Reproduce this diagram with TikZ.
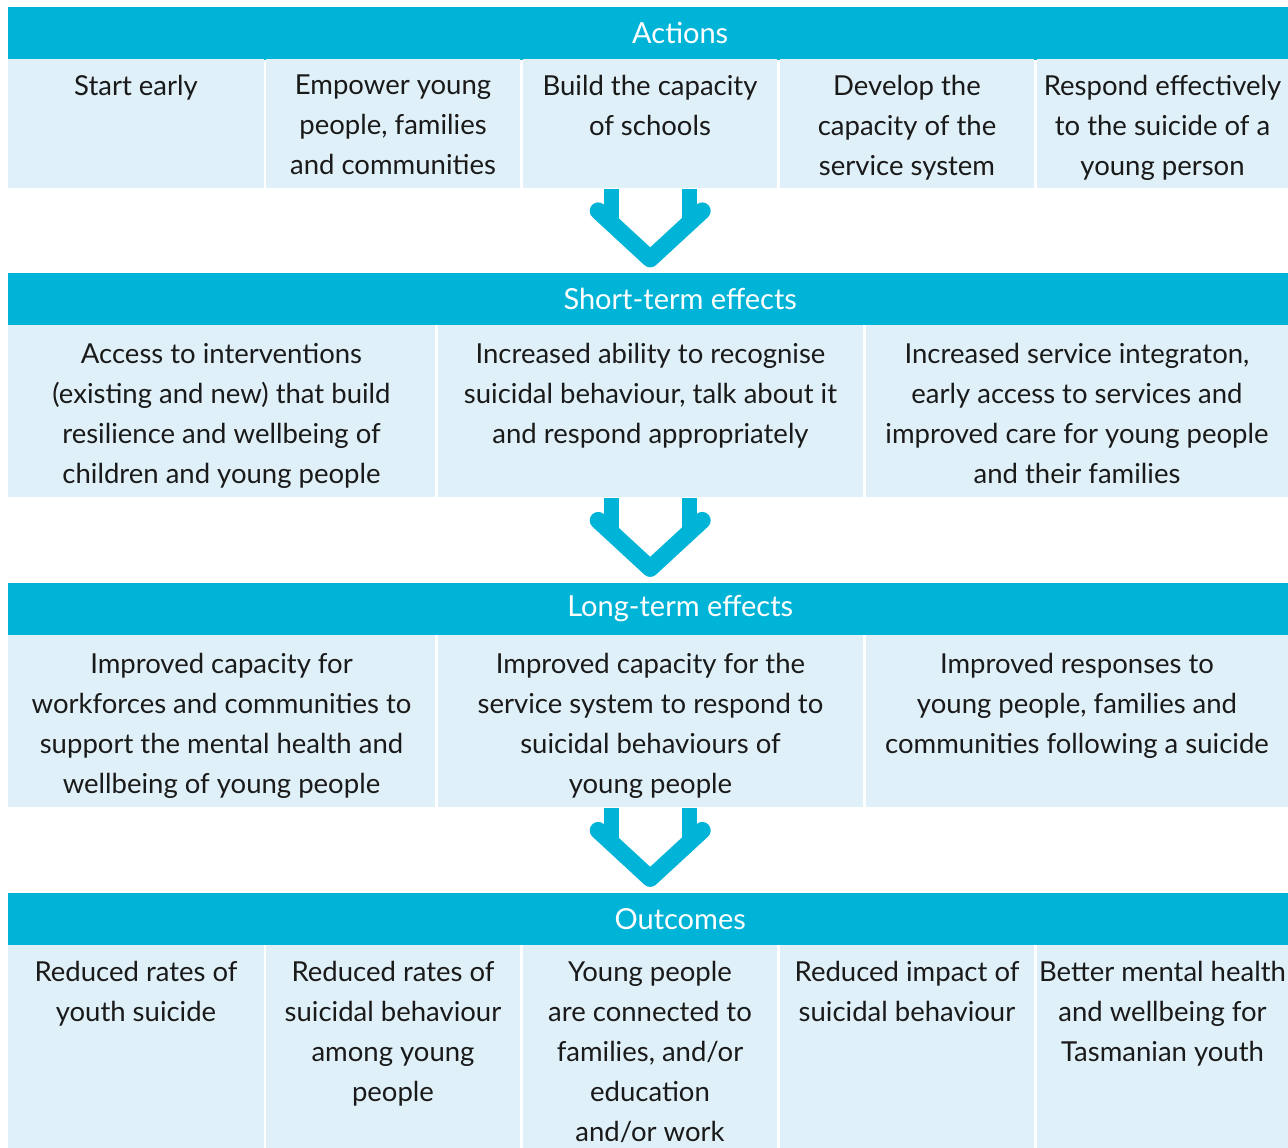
\documentclass[tikz,border=0pt]{standalone}
\usepackage{fontspec}
\setmainfont{Lato}
\usetikzlibrary{positioning,calc}
\definecolor{tealhead}{RGB}{0,180,216}
\definecolor{tealpale}{RGB}{223,240,248}
\definecolor{inkgrey}{RGB}{26,26,26}

\begin{document}
\begin{tikzpicture}[x=1pt,y=-1pt,
    head/.style={fill=tealhead,minimum width=1280pt,minimum height=52.5pt,
        inner sep=0pt,anchor=north west},
    headtext/.style={text=white,inner sep=0pt,font=\fontsize{29}{32}\selectfont},
    cell/.style={text=inkgrey,align=center,anchor=north,inner sep=0pt,
        font=\fontsize{27.5}{40}\selectfont},
    stem/.style={draw=tealhead,line width=15pt},
    chev/.style={draw=tealhead,line width=17pt,line cap=round,line join=round},
    downarr/.pic={
        \draw[stem] (-39,-42) -- (-39,-6);
        \draw[stem] (39,-42) -- (39,-6);
        \draw[chev] (-52,-20) -- (0,28) -- (52,-20);
    }]
    \useasboundingbox (0,0) rectangle (1288,1148);

    % Actions
    \node[head] (acthead) at (8,7) {};
    \node[headtext] (acttitle) at ($(acthead.center)+(32,0)$) {Actions};
    \foreach \xa/\xb/\txt [count=\i] in {
        8/264/{Start early},
        266/520/{Empower young\\people, families\\and communities},
        523/777/{Build the capacity\\of schools},
        780/1034/{Develop the\\capacity of the\\service system},
        1037/1288/{Respond effectively\\to the suicide of a\\young person}}{
        \fill[tealpale] (\xa,59.5) rectangle (\xb,188);
        \node[cell] (act-\i) at ({(\xa+\xb)/2},75) {\txt};
    }
    \pic at ($(acthead.south)+(2,171)$) {downarr};

    % Short-term effects
    \node[head] (sthead) at (8,272.5) {};
    \node[headtext] (sttitle) at ($(sthead.center)+(32,0)$) {Short-term effects};
    \foreach \xa/\xb/\txt [count=\i] in {
        8/435/{Access to interventions\\(existing and new) that build\\resilience and wellbeing of\\children and young people},
        438/863/{Increased ability to recognise\\suicidal behaviour, talk about it\\and respond appropriately},
        866/1288/{Increased service integraton,\\early access to services and\\improved care for young people\\and their families}}{
        \fill[tealpale] (\xa,325) rectangle (\xb,497);
        \node[cell] (st-\i) at ({(\xa+\xb)/2},343) {\txt};
    }
    \pic at ($(sthead.south)+(2,215)$) {downarr};

    % Long-term effects
    \node[head] (lthead) at (8,582.5) {};
    \node[headtext] (lttitle) at ($(lthead.center)+(32,0)$) {Long-term effects};
    \foreach \xa/\xb/\txt [count=\i] in {
        8/435/{Improved capacity for\\workforces and communities to\\support the mental health and\\wellbeing of young people},
        438/863/{Improved capacity for the\\service system to respond to\\suicidal behaviours of\\young people},
        866/1288/{Improved responses to\\young people, families and\\communities following a suicide}}{
        \fill[tealpale] (\xa,635) rectangle (\xb,807);
        \node[cell] (lt-\i) at ({(\xa+\xb)/2},653) {\txt};
    }
    \pic at ($(lthead.south)+(2,215)$) {downarr};

    % Outcomes
    \node[head] (outhead) at (8,892.5) {};
    \node[headtext] (outtitle) at ($(outhead.center)+(32,0)$) {Outcomes};
    \foreach \xa/\xb/\txt [count=\i] in {
        8/264/{Reduced rates of\\youth suicide},
        266/520/{Reduced rates of\\suicidal behaviour\\among young\\people},
        523/777/{Young people\\are connected to\\families, and/or\\education\\and/or work},
        780/1034/{Reduced impact of\\suicidal behaviour},
        1037/1288/{Better mental health\\and wellbeing for\\Tasmanian youth}}{
        \fill[tealpale] (\xa,945) rectangle (\xb,1148);
        \node[cell] (out-\i) at ({(\xa+\xb)/2},961) {\txt};
    }
\end{tikzpicture}
\end{document}
